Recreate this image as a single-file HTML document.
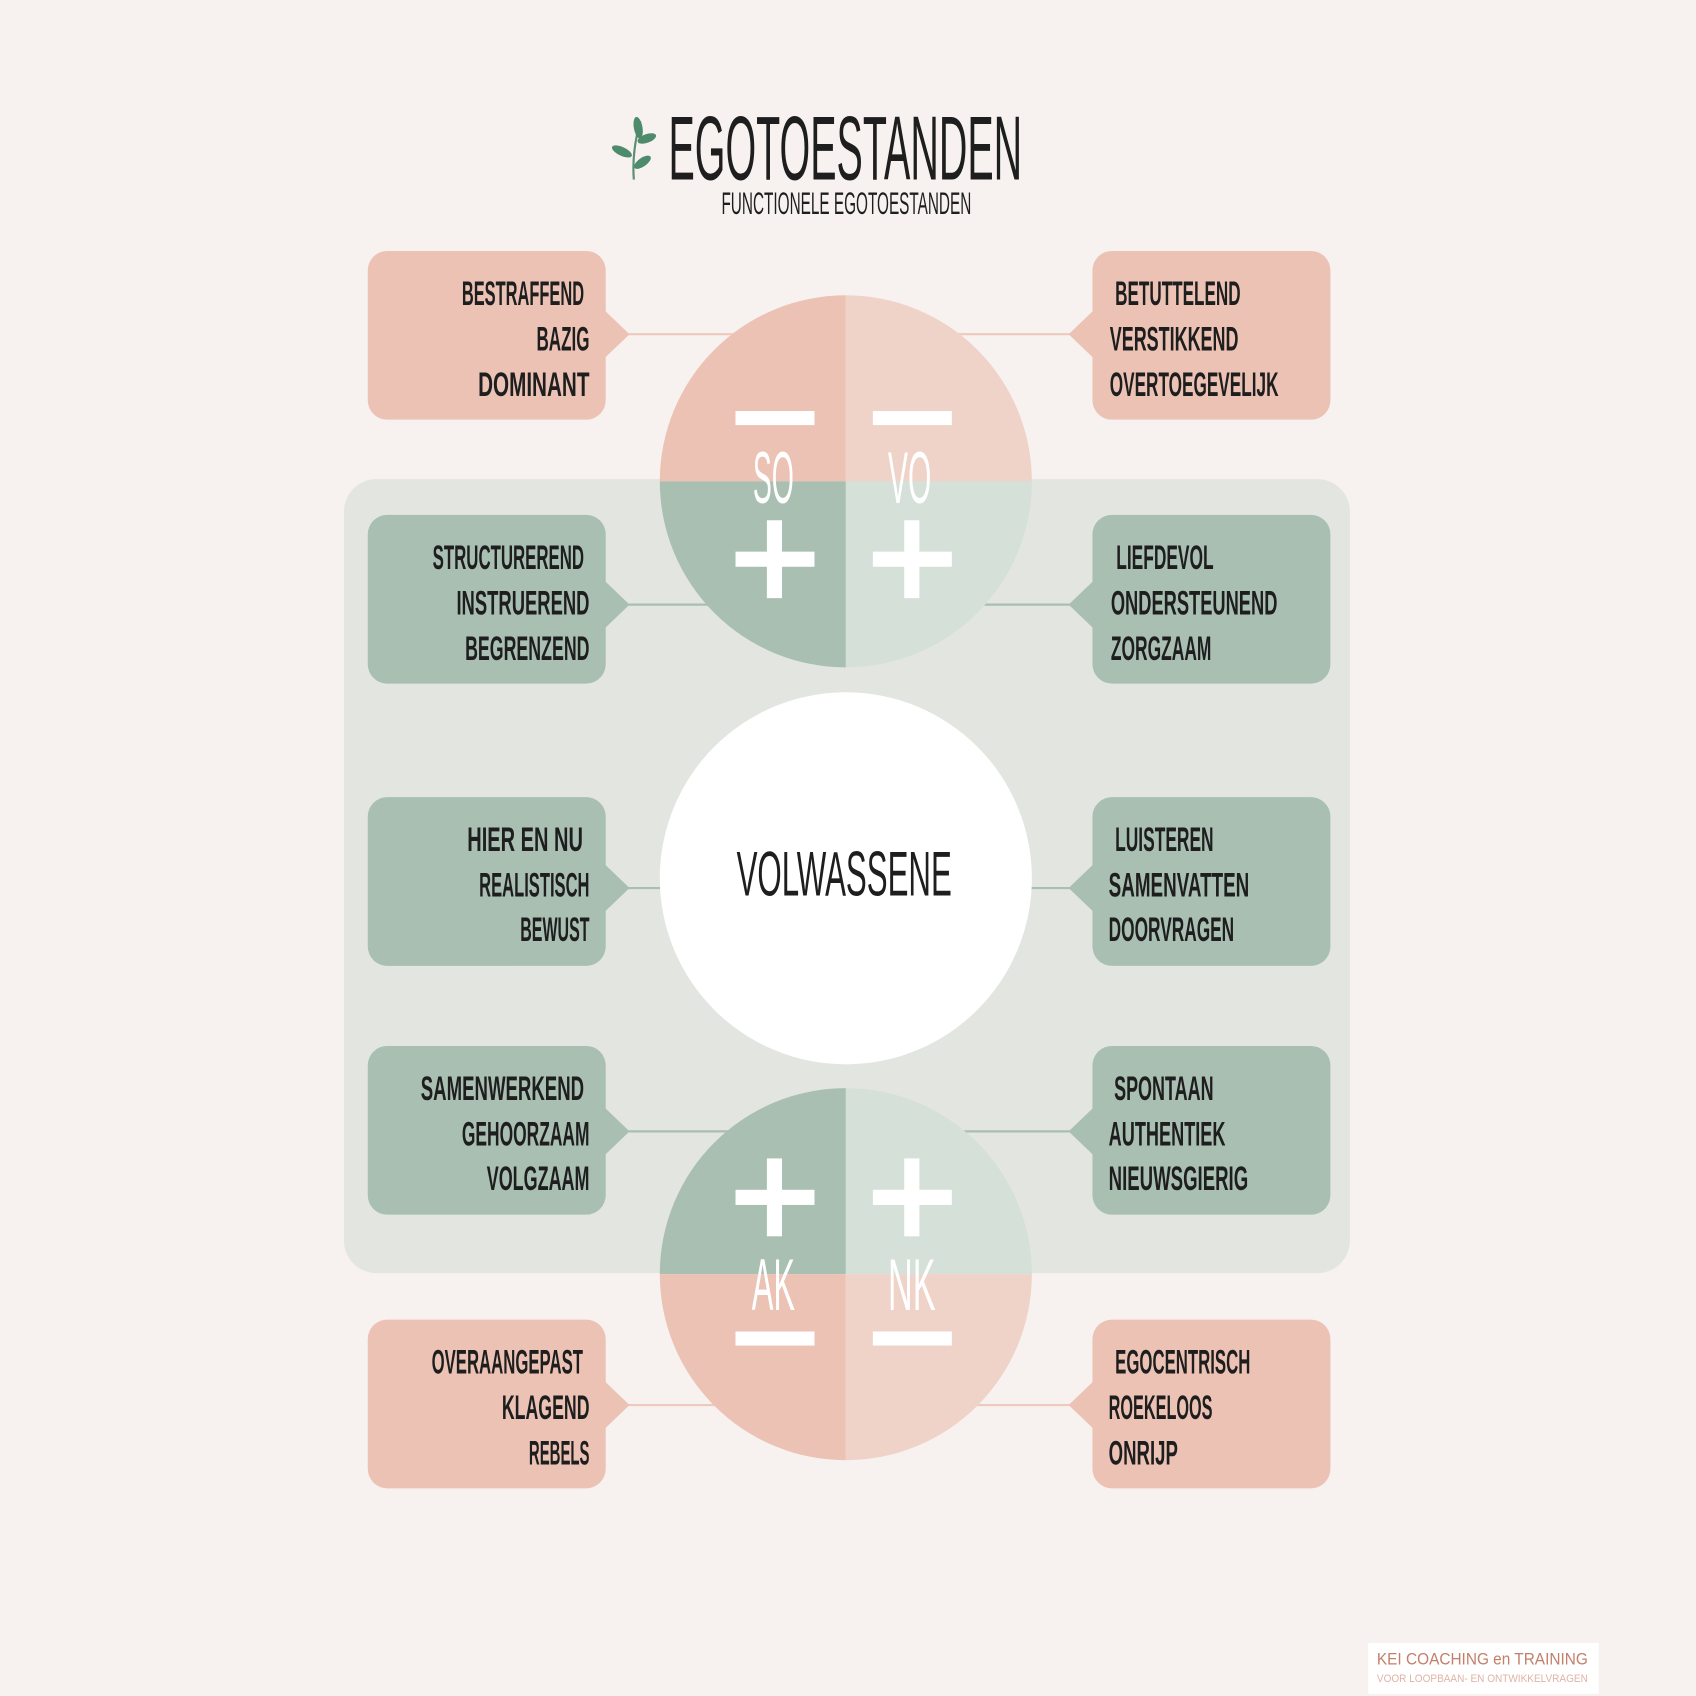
<!DOCTYPE html>
<html><head><meta charset="utf-8"><style>
html,body{margin:0;padding:0;background:#f7f2ef;}
svg{display:block;}
text{font-family:"Liberation Sans",sans-serif;}
.w{font-size:32px;font-weight:bold;fill:#1e1e1e;}
</style></head><body>
<svg width="1696" height="1696" viewBox="0 0 1568 1568" xmlns="http://www.w3.org/2000/svg">
<rect width="1568" height="1568" fill="#f7f2ef"/>
<g fill="#4e8a6c" stroke="none">
<path d="M586 166 Q584 140 592 112" stroke="#5a8f73" stroke-width="2" fill="none"/>
<ellipse cx="590" cy="118" rx="4" ry="10" transform="rotate(-10 590 118)"/>
<ellipse cx="598" cy="128" rx="9" ry="4" transform="rotate(-20 598 128)"/>
<ellipse cx="575" cy="140" rx="10" ry="4" transform="rotate(25 575 140)"/>
<ellipse cx="594" cy="150" rx="9" ry="4" transform="rotate(-35 594 150)"/>
</g>
<text x="618" y="166" font-size="84" fill="#1e1e1e" textLength="327" lengthAdjust="spacingAndGlyphs">EGOTOESTANDEN</text>
<text x="667" y="198" font-size="29" fill="#1e1e1e" textLength="231" lengthAdjust="spacingAndGlyphs">FUNCTIONELE EGOTOESTANDEN</text>

<rect x="318" y="443" width="930" height="734" rx="30" fill="#e3e5e0"/>

<g stroke-width="2">
<line x1="575" y1="309" x2="700" y2="309" stroke="#efc9bc"/>
<line x1="870" y1="309" x2="995" y2="309" stroke="#efc9bc"/>
<line x1="575" y1="559" x2="700" y2="559" stroke="#a8bfb2"/>
<line x1="870" y1="559" x2="995" y2="559" stroke="#a8bfb2"/>
<line x1="575" y1="821" x2="700" y2="821" stroke="#a8bfb2"/>
<line x1="870" y1="821" x2="995" y2="821" stroke="#a8bfb2"/>
<line x1="575" y1="1046" x2="700" y2="1046" stroke="#a8bfb2"/>
<line x1="870" y1="1046" x2="995" y2="1046" stroke="#a8bfb2"/>
<line x1="575" y1="1299" x2="700" y2="1299" stroke="#efc9bc"/>
<line x1="870" y1="1299" x2="995" y2="1299" stroke="#efc9bc"/>
</g>

<path d="M782 445 L610 445 A172 172 0 0 1 782 273 Z" fill="#ecc2b5"/>
<path d="M782 445 L782 273 A172 172 0 0 1 954 445 Z" fill="#f0d3c8"/>
<path d="M782 445 L610 445 A172 172 0 0 0 782 617 Z" fill="#a8bfb2"/>
<path d="M782 445 L782 617 A172 172 0 0 0 954 445 Z" fill="#d5e0d9"/>
<g fill="#fff">
<rect x="680" y="380" width="73" height="13"/>
<rect x="807" y="380" width="73" height="13"/>
<rect x="680" y="510" width="73" height="14"/><rect x="709" y="481" width="14" height="72"/>
<rect x="807" y="510" width="73" height="14"/><rect x="836" y="481" width="14" height="72"/>
</g>
<text x="715" y="465" font-size="68" fill="#fff" text-anchor="middle" textLength="38" lengthAdjust="spacingAndGlyphs">SO</text>
<text x="841" y="465" font-size="68" fill="#fff" text-anchor="middle" textLength="40" lengthAdjust="spacingAndGlyphs">VO</text>

<circle cx="782" cy="812" r="172" fill="#fff"/>
<text x="681" y="828" font-size="58" fill="#1e1e1e" textLength="199" lengthAdjust="spacingAndGlyphs">VOLWASSENE</text>

<path d="M782 1178 L610 1178 A172 172 0 0 1 782 1006 Z" fill="#a8bfb2"/>
<path d="M782 1178 L782 1006 A172 172 0 0 1 954 1178 Z" fill="#d5e0d9"/>
<path d="M782 1178 L610 1178 A172 172 0 0 0 782 1350 Z" fill="#ecc2b5"/>
<path d="M782 1178 L782 1350 A172 172 0 0 0 954 1178 Z" fill="#f0d3c8"/>
<g fill="#fff">
<rect x="680" y="1100" width="73" height="14"/><rect x="709" y="1071" width="14" height="72"/>
<rect x="807" y="1100" width="73" height="14"/><rect x="836" y="1071" width="14" height="72"/>
<rect x="680" y="1231" width="73" height="13"/>
<rect x="807" y="1231" width="73" height="13"/>
</g>
<text x="715" y="1211" font-size="68" fill="#fff" text-anchor="middle" textLength="40" lengthAdjust="spacingAndGlyphs">AK</text>
<text x="843" y="1211" font-size="68" fill="#fff" text-anchor="middle" textLength="44" lengthAdjust="spacingAndGlyphs">NK</text>

<g>
<rect x="340" y="232" width="220" height="156" rx="18" fill="#ecc2b5"/><path d="M558 286 L582 309 L558 332 Z" fill="#ecc2b5"/>
<rect x="1010" y="232" width="220" height="156" rx="18" fill="#ecc2b5"/><path d="M1012 286 L988 309 L1012 332 Z" fill="#ecc2b5"/>
<rect x="340" y="476" width="220" height="156" rx="18" fill="#a8bfb2"/><path d="M558 536 L582 559 L558 582 Z" fill="#a8bfb2"/>
<rect x="1010" y="476" width="220" height="156" rx="18" fill="#a8bfb2"/><path d="M1012 536 L988 559 L1012 582 Z" fill="#a8bfb2"/>
<rect x="340" y="737" width="220" height="156" rx="18" fill="#a8bfb2"/><path d="M558 798 L582 821 L558 844 Z" fill="#a8bfb2"/>
<rect x="1010" y="737" width="220" height="156" rx="18" fill="#a8bfb2"/><path d="M1012 798 L988 821 L1012 844 Z" fill="#a8bfb2"/>
<rect x="340" y="967" width="220" height="156" rx="18" fill="#a8bfb2"/><path d="M558 1023 L582 1046 L558 1069 Z" fill="#a8bfb2"/>
<rect x="1010" y="967" width="220" height="156" rx="18" fill="#a8bfb2"/><path d="M1012 1023 L988 1046 L1012 1069 Z" fill="#a8bfb2"/>
<rect x="340" y="1220" width="220" height="156" rx="18" fill="#ecc2b5"/><path d="M558 1276 L582 1299 L558 1322 Z" fill="#ecc2b5"/>
<rect x="1010" y="1220" width="220" height="156" rx="18" fill="#ecc2b5"/><path d="M1012 1276 L988 1299 L1012 1322 Z" fill="#ecc2b5"/>
</g>

<g>
<text class="w" x="427" y="282" textLength="113" lengthAdjust="spacingAndGlyphs">BESTRAFFEND</text>
<text class="w" x="496" y="324" textLength="49" lengthAdjust="spacingAndGlyphs">BAZIG</text>
<text class="w" x="442" y="366" textLength="103" lengthAdjust="spacingAndGlyphs">DOMINANT</text>
<text class="w" x="1031" y="282" textLength="116" lengthAdjust="spacingAndGlyphs">BETUTTELEND</text>
<text class="w" x="1026" y="324" textLength="119" lengthAdjust="spacingAndGlyphs">VERSTIKKEND</text>
<text class="w" x="1026" y="366" textLength="156" lengthAdjust="spacingAndGlyphs">OVERTOEGEVELIJK</text>

<text class="w" x="400" y="526" textLength="140" lengthAdjust="spacingAndGlyphs">STRUCTUREREND</text>
<text class="w" x="422" y="568" textLength="123" lengthAdjust="spacingAndGlyphs">INSTRUEREND</text>
<text class="w" x="430" y="610" textLength="115" lengthAdjust="spacingAndGlyphs">BEGRENZEND</text>
<text class="w" x="1032" y="526" textLength="90" lengthAdjust="spacingAndGlyphs">LIEFDEVOL</text>
<text class="w" x="1027" y="568" textLength="154" lengthAdjust="spacingAndGlyphs">ONDERSTEUNEND</text>
<text class="w" x="1027" y="610" textLength="93" lengthAdjust="spacingAndGlyphs">ZORGZAAM</text>

<text class="w" x="432" y="787" textLength="107" lengthAdjust="spacingAndGlyphs">HIER EN NU</text>
<text class="w" x="443" y="829" textLength="102" lengthAdjust="spacingAndGlyphs">REALISTISCH</text>
<text class="w" x="481" y="870" textLength="64" lengthAdjust="spacingAndGlyphs">BEWUST</text>
<text class="w" x="1031" y="787" textLength="91" lengthAdjust="spacingAndGlyphs">LUISTEREN</text>
<text class="w" x="1025" y="829" textLength="130" lengthAdjust="spacingAndGlyphs">SAMENVATTEN</text>
<text class="w" x="1025" y="870" textLength="116" lengthAdjust="spacingAndGlyphs">DOORVRAGEN</text>

<text class="w" x="389" y="1017" textLength="151" lengthAdjust="spacingAndGlyphs">SAMENWERKEND</text>
<text class="w" x="427" y="1059" textLength="118" lengthAdjust="spacingAndGlyphs">GEHOORZAAM</text>
<text class="w" x="450" y="1100" textLength="95" lengthAdjust="spacingAndGlyphs">VOLGZAAM</text>
<text class="w" x="1030" y="1017" textLength="92" lengthAdjust="spacingAndGlyphs">SPONTAAN</text>
<text class="w" x="1025" y="1059" textLength="108" lengthAdjust="spacingAndGlyphs">AUTHENTIEK</text>
<text class="w" x="1025" y="1100" textLength="129" lengthAdjust="spacingAndGlyphs">NIEUWSGIERIG</text>

<text class="w" x="399" y="1270" textLength="140" lengthAdjust="spacingAndGlyphs">OVERAANGEPAST</text>
<text class="w" x="464" y="1312" textLength="81" lengthAdjust="spacingAndGlyphs">KLAGEND</text>
<text class="w" x="489" y="1354" textLength="56" lengthAdjust="spacingAndGlyphs">REBELS</text>
<text class="w" x="1031" y="1270" textLength="125" lengthAdjust="spacingAndGlyphs">EGOCENTRISCH</text>
<text class="w" x="1025" y="1312" textLength="96" lengthAdjust="spacingAndGlyphs">ROEKELOOS</text>
<text class="w" x="1025" y="1354" textLength="64" lengthAdjust="spacingAndGlyphs">ONRIJP</text>
</g>

<rect x="1265" y="1519" width="213" height="47" fill="#fff"/>
<text x="1273" y="1539" font-size="15" fill="#c47f6a" textLength="195" lengthAdjust="spacingAndGlyphs">KEI COACHING en TRAINING</text>
<text x="1273" y="1555" font-size="10" fill="#e0b4a6" textLength="195" lengthAdjust="spacingAndGlyphs">VOOR LOOPBAAN- EN ONTWIKKELVRAGEN</text>
</svg>
</body></html>
